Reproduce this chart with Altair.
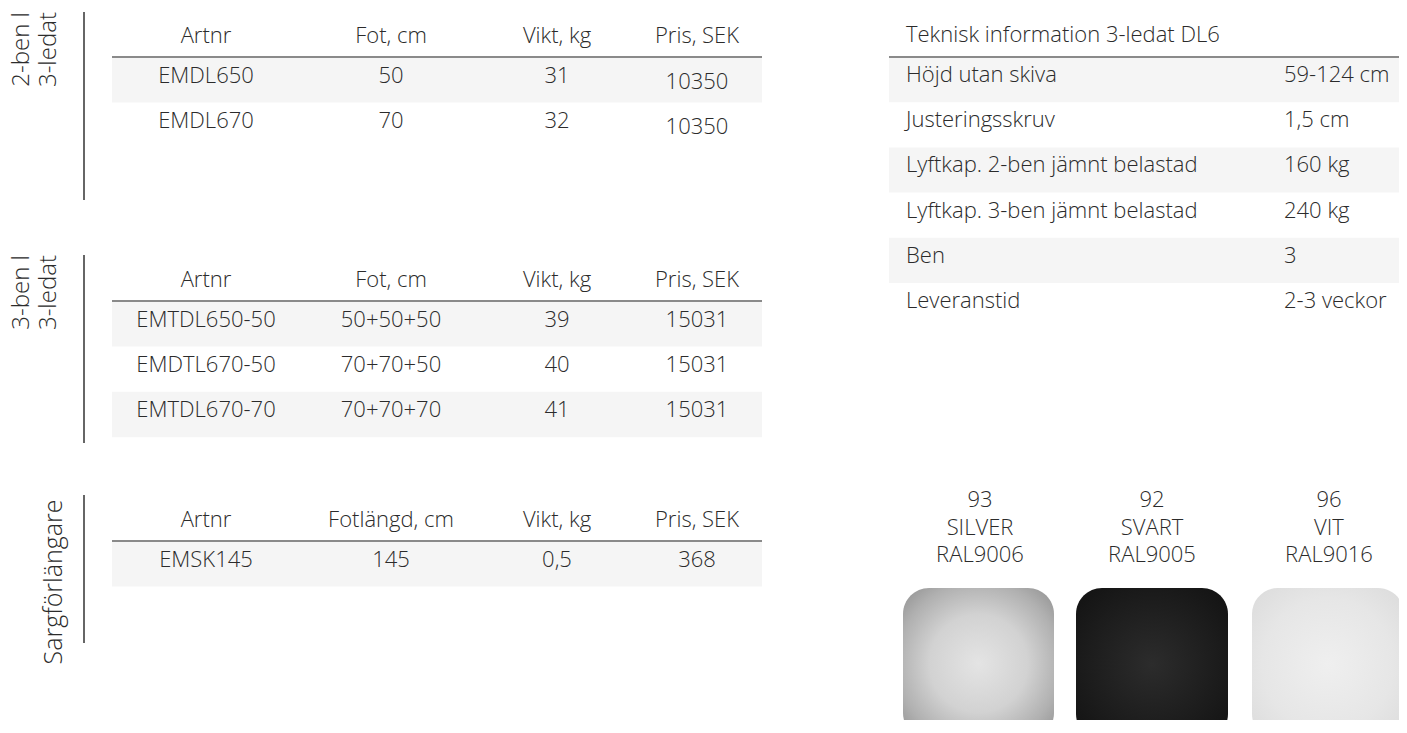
import altair as alt
import pandas as pd

# ---------------- content ----------------
side_labels_1 = ["2-ben l", "3-ledat"]
side_labels_2 = ["3-ben l", "3-ledat"]
side_label_3 = ["Sargförlängare"]

t1_header = ["Artnr", "Fot, cm", "Vikt, kg", "Pris, SEK"]
t1_artnr = ["EMDL650", "EMDL670"]
t1_fot = ["50", "70"]
t1_vikt = ["31", "32"]
t1_pris = ["10350", "10350"]

t2_header = ["Artnr", "Fot, cm", "Vikt, kg", "Pris, SEK"]
t2_artnr = ["EMTDL650-50", "EMDTL670-50", "EMTDL670-70"]
t2_fot = ["50+50+50", "70+70+50", "70+70+70"]
t2_vikt = ["39", "40", "41"]
t2_pris = ["15031", "15031", "15031"]

t3_header = ["Artnr", "Fotlängd, cm", "Vikt, kg", "Pris, SEK"]
t3_artnr = ["EMSK145"]
t3_fot = ["145"]
t3_vikt = ["0,5"]
t3_pris = ["368"]

tech_title = ["Teknisk information 3-ledat DL6"]
tech_labels = ["Höjd utan skiva", "Justeringsskruv", "Lyftkap. 2-ben jämnt belastad",
               "Lyftkap. 3-ben jämnt belastad", "Ben", "Leveranstid"]
tech_values = ["59-124 cm", "1,5 cm", "160 kg", "240 kg", "3", "2-3 veckor"]

color_codes = ["93", "92", "96"]
color_names = ["SILVER", "SVART", "VIT"]
color_ral = ["RAL9006", "RAL9005", "RAL9016"]

# ---------------- layout ----------------
FONT = "Open Sans"
FW = 300
TXT = "#2b2b2b"
BAND = "#f5f5f5"
FS = 22
SIDE_FS = 24
ROW_H = 45.4
COL_X = [206, 391, 557, 697]
TAB_X = (112, 762)
TAB_LINE_Y = [57, 301, 541]
SIDE_LINE = [(12, 200), (255, 443), (495, 643)]
SIDE_X2 = [22, 49]
TECH_X = (889, 1410)
TECH_LBL_X, TECH_VAL_X = 906, 1284
SW_X = [(903, 1054), (1076, 1228), (1252, 1404)]
SW_CX = [980, 1152, 1329]
SW_TOP = 588

center_rows, left_rows, rot_rows = [], [], []
bands, hrules, vrules = [], [], []

tables = [
    (t1_header, [t1_artnr, t1_fot, t1_vikt, t1_pris], [0, 0, 0, 6]),
    (t2_header, [t2_artnr, t2_fot, t2_vikt, t2_pris], [0, 0, 0, 0]),
    (t3_header, [t3_artnr, t3_fot, t3_vikt, t3_pris], [0, 0, 0, 0]),
]
for ti, (hdr, cols, dys) in enumerate(tables):
    ly = TAB_LINE_Y[ti]
    for ci, h in enumerate(hdr):
        center_rows.append({"x": COL_X[ci], "y": ly - 14, "t": h})
    hrules.append({"x": TAB_X[0], "x2": TAB_X[1], "y": ly})
    n = len(cols[0])
    for r in range(n):
        top = ly + r * ROW_H
        if r % 2 == 0:
            bands.append({"x": TAB_X[0], "x2": TAB_X[1], "y": top, "y2": top + ROW_H})
        for ci, col in enumerate(cols):
            center_rows.append({"x": COL_X[ci], "y": top + 25.5 + dys[ci], "t": col[r]})
    a, b = SIDE_LINE[ti]
    vrules.append({"x": 84, "y": a, "y2": b})

# side labels (rotated)
for i, s in enumerate(side_labels_1):
    rot_rows.append({"x": SIDE_X2[i], "y": 12, "t": s})
for i, s in enumerate(side_labels_2):
    rot_rows.append({"x": SIDE_X2[i], "y": 255, "t": s})
rot_rows_c = [{"x": 54, "y": 582, "t": side_label_3[0]}]

# technical table
left_rows.append({"x": TECH_LBL_X, "y": 42, "t": tech_title[0]})
hrules.append({"x": TECH_X[0], "x2": TECH_X[1], "y": 57})
for r, (lb, vl) in enumerate(zip(tech_labels, tech_values)):
    top = 57 + r * 45.2
    if r % 2 == 0:
        bands.append({"x": TECH_X[0], "x2": TECH_X[1], "y": top, "y2": top + 45.2})
    left_rows.append({"x": TECH_LBL_X, "y": top + 25, "t": lb})
    left_rows.append({"x": TECH_VAL_X, "y": top + 25, "t": vl})

# colour labels
for i in range(3):
    for li, s in enumerate([color_codes[i], color_names[i], color_ral[i]]):
        center_rows.append({"x": SW_CX[i], "y": 507 + li * 27.5, "t": s})

W, H = 1391, 712
xs = alt.Scale(domain=[8, 8 + W], nice=False, zero=False)
ys = alt.Scale(domain=[8, 8 + H], reverse=True, nice=False, zero=False)
X = lambda f="x": alt.X(f"{f}:Q", scale=xs, axis=None)
Y = lambda f="y": alt.Y(f"{f}:Q", scale=ys, axis=None)

band_layer = alt.Chart(pd.DataFrame(bands)).mark_rect(color=BAND).encode(
    x=X(), x2="x2:Q", y=Y(), y2="y2:Q")
hrule_layer = alt.Chart(pd.DataFrame(hrules)).mark_rule(color="#8a8a8a", strokeWidth=2).encode(
    x=X(), x2="x2:Q", y=Y())
vrule_layer = alt.Chart(pd.DataFrame(vrules)).mark_rule(color="#333333", strokeWidth=1.5).encode(
    x=X(), y=Y(), y2="y2:Q")

ctext = alt.Chart(pd.DataFrame(center_rows)).mark_text(
    font=FONT, fontSize=FS, fontWeight=FW, color=TXT, align="center", baseline="alphabetic").encode(
    x=X(), y=Y(), text="t:N")
ltext = alt.Chart(pd.DataFrame(left_rows)).mark_text(
    font=FONT, fontSize=FS, fontWeight=FW, color=TXT, align="left", baseline="alphabetic").encode(
    x=X(), y=Y(), text="t:N")
rtext = alt.Chart(pd.DataFrame(rot_rows)).mark_text(
    font=FONT, fontSize=SIDE_FS, fontWeight=FW, color=TXT, align="right", baseline="middle", angle=270).encode(
    x=X(), y=Y(), text="t:N")
rtext2 = alt.Chart(pd.DataFrame(rot_rows_c)).mark_text(
    font=FONT, fontSize=25, fontWeight=FW, color=TXT, align="center", baseline="middle", angle=270).encode(
    x=X(), y=Y(), text="t:N")

grads = [
    [("#e4e4e4", 0.0), ("#d2d2d2", 0.45), ("#b0b0b0", 0.75), ("#8c8c8c", 1.0)],
    [("#2c2c2c", 0.0), ("#1c1c1c", 0.6), ("#111111", 1.0)],
    [("#efefef", 0.0), ("#e6e6e6", 0.6), ("#dadada", 1.0)],
]
swatches = []
for i, (a, b) in enumerate(SW_X):
    df = pd.DataFrame([{"x": a, "x2": b, "y": SW_TOP, "y2": SW_TOP + (b - a)}])
    fill = alt.RadialGradient(
        gradient="radial",
        stops=[alt.GradientStop(color=c, offset=o) for c, o in grads[i]],
        x1=0.5, y1=0.5, r1=0, x2=0.5, y2=0.5, r2=0.72)
    swatches.append(alt.Chart(df).mark_rect(fill=fill, cornerRadius=26).encode(
        x=X(), x2="x2:Q", y=Y(), y2="y2:Q"))

chart = alt.layer(band_layer, hrule_layer, vrule_layer, ctext, ltext, rtext, rtext2, *swatches).properties(
    width=W, height=H, padding=0, autosize=alt.AutoSizeParams(type="none")
).configure_view(stroke=None)

chart.save("out.html", embed_options={"renderer": "svg", "actions": False})
